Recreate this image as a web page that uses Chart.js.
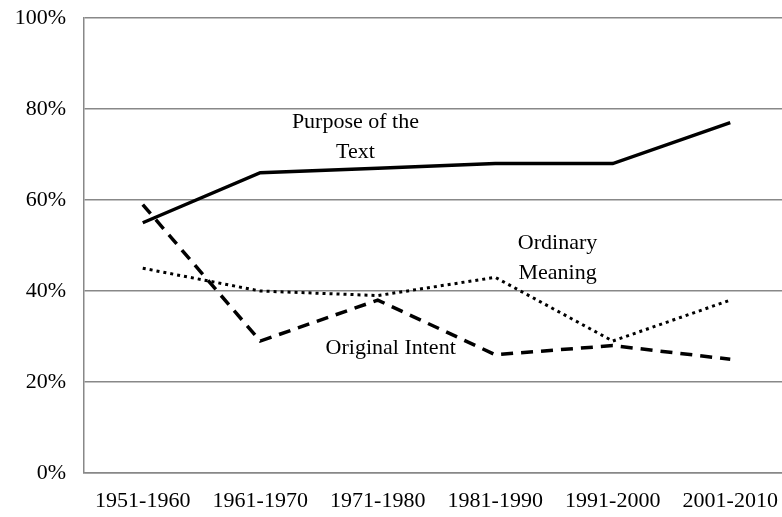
<!DOCTYPE html>
<html>
<head>
<meta charset="utf-8">
<script src="https://cdn.jsdelivr.net/npm/chart.js@4"></script>
<style>
  html, body { margin: 0; padding: 0; background: #fff; overflow: hidden; }
  #wrap { width: 789px; height: 517px; }
</style>
</head>
<body>
<div id="wrap"><canvas id="lineChart1"></canvas></div>
<script>
const decades = ['1951-1960', '1961-1970', '1971-1980', '1981-1990', '1991-2000', '2001-2010'];
const purposeText = [55, 66, 67, 68, 68, 77];
const originalIntent = [59, 29, 38, 26, 28, 25];
const ordinaryMeaning = [45, 40, 39, 43, 29, 38];
const yTicks = [0, 20, 40, 60, 80, 100];

// in-plot labels: text, category index (fractional), value
const noteText = ['Purpose of the', 'Text', 'Ordinary', 'Meaning', 'Original Intent'];
const noteX = [1.81, 1.81, 3.53, 3.53, 2.11];
const noteY = [77, 70.5, 50.5, 44, 27.5];

const serif = "'Liberation Serif', 'Times New Roman', serif";

const notesPlugin = {
    id: 'notes',
    afterDatasetsDraw(chart) {
        const ctx = chart.ctx;
        const xs = chart.scales.x, ys = chart.scales.y;
        ctx.save();
        ctx.font = '22px ' + serif;
        ctx.fillStyle = '#000';
        ctx.textAlign = 'center';
        ctx.textBaseline = 'middle';
        noteText.forEach(function(t, i) {
            ctx.fillText(t, xs.getPixelForValue(noteX[i]), ys.getPixelForValue(noteY[i]));
        });
        ctx.restore();
    }
};

const ctxLine = document.getElementById('lineChart1').getContext('2d');
const lineChart1 = new Chart(ctxLine, {
    type: 'line',
    data: {
        labels: decades,
        datasets: [{
            label: 'Purpose of the Text',
            data: purposeText,
            borderColor: '#000',
            borderWidth: 3.5,
            pointRadius: 0,
            tension: 0
        }, {
            label: 'Original Intent',
            data: originalIntent,
            borderColor: '#000',
            borderWidth: 3.5,
            borderDash: [12, 8],
            pointRadius: 0,
            tension: 0
        }, {
            label: 'Ordinary Meaning',
            data: ordinaryMeaning,
            borderColor: '#000',
            borderWidth: 3,
            borderDash: [3, 4],
            pointRadius: 0,
            tension: 0
        }]
    },
    options: {
        responsive: true,
        maintainAspectRatio: false,
        animation: false,
        layout: {
            padding: { top: 18, right: 0, left: 0, bottom: 0 }
        },
        scales: {
            x: {
                offset: true,
                grid: { display: false, drawTicks: false },
                border: { color: '#888', width: 1.5 },
                ticks: {
                    color: '#000',
                    padding: 15,
                    maxRotation: 0,
                    font: { size: 22, family: serif }
                },
                afterFit: function(scale) {
                    scale.height = 44;
                    scale.paddingLeft = 0;
                    scale.paddingRight = 0;
                }
            },
            y: {
                min: 0,
                max: 100,
                afterBuildTicks: function(scale) {
                    scale.ticks = yTicks.map(function(v) { return { value: v }; });
                },
                grid: { color: '#888', lineWidth: 1.5, drawTicks: false },
                border: { color: '#888', width: 1.5 },
                ticks: {
                    color: '#000',
                    padding: 18,
                    font: { size: 22, family: serif },
                    callback: function(v) { return v + '%'; }
                },
                afterFit: function(scale) {
                    scale.width = 84;
                    scale.paddingTop = 0;
                    scale.paddingBottom = 0;
                }
            }
        },
        plugins: {
            legend: { display: false },
            tooltip: { enabled: false }
        }
    },
    plugins: [notesPlugin]
});
</script>
</body>
</html>
